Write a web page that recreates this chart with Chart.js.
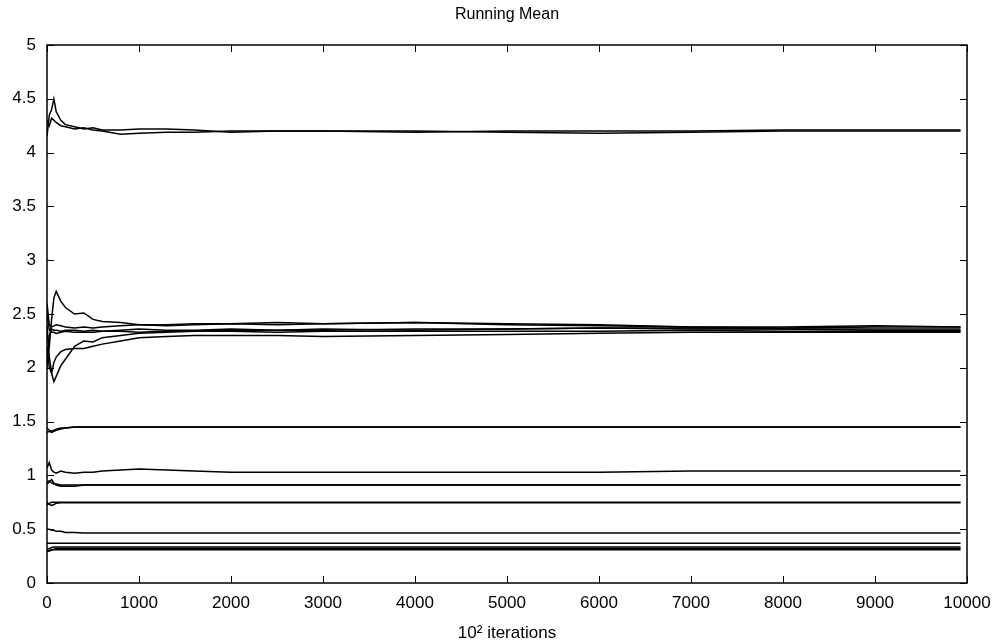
<!DOCTYPE html>
<html>
<head>
<meta charset="utf-8">
<script src="https://cdn.jsdelivr.net/npm/chart.js@4"></script>
<style>
  html, body { margin: 0; padding: 0; background: #fff; }
  #wrap { width: 1006px; height: 644px; }
</style>
</head>
<body>
<div id="wrap"><canvas id="runningMean" width="1006" height="644"></canvas></div>
<script>
// iteration positions (x 10^2) where the running mean was read
const iterations = [0, 25, 50, 75, 100, 150, 200, 300, 400, 500, 600, 800, 1000, 1300, 1600, 2000, 2500, 3000, 4000, 5000, 6000, 7000, 8000, 9000, 9930];

// parameter near 4.2 (two chains)
const meanA1 = [4.15, 4.35, 4.40, 4.50, 4.38, 4.30, 4.26, 4.24, 4.22, 4.23, 4.21, 4.21, 4.22, 4.22, 4.21, 4.19, 4.20, 4.20, 4.19, 4.20, 4.20, 4.20, 4.21, 4.21, 4.21];
const meanA2 = [4.30, 4.25, 4.32, 4.30, 4.28, 4.25, 4.24, 4.22, 4.23, 4.21, 4.20, 4.17, 4.18, 4.19, 4.19, 4.20, 4.20, 4.20, 4.20, 4.19, 4.18, 4.19, 4.20, 4.20, 4.20];

// parameters near 2.35
const meanB1 = [2.30, 2.20, 2.45, 2.65, 2.71, 2.62, 2.56, 2.50, 2.51, 2.45, 2.43, 2.42, 2.40, 2.39, 2.40, 2.41, 2.40, 2.41, 2.42, 2.40, 2.39, 2.38, 2.37, 2.38, 2.38];
const meanB2 = [2.40, 2.10, 1.95, 1.87, 1.92, 2.02, 2.08, 2.20, 2.25, 2.24, 2.28, 2.30, 2.32, 2.33, 2.34, 2.35, 2.35, 2.36, 2.35, 2.36, 2.37, 2.36, 2.36, 2.35, 2.35];
const meanB3 = [2.20, 2.00, 1.95, 2.05, 2.10, 2.15, 2.17, 2.18, 2.18, 2.20, 2.22, 2.25, 2.28, 2.29, 2.30, 2.30, 2.30, 2.29, 2.30, 2.31, 2.32, 2.33, 2.33, 2.33, 2.33];
const meanB4 = [2.60, 2.40, 2.38, 2.39, 2.40, 2.39, 2.38, 2.37, 2.38, 2.37, 2.38, 2.39, 2.40, 2.40, 2.41, 2.41, 2.42, 2.41, 2.42, 2.41, 2.40, 2.38, 2.38, 2.39, 2.38];
const meanB5 = [2.00, 2.30, 2.36, 2.35, 2.35, 2.34, 2.35, 2.35, 2.34, 2.35, 2.34, 2.35, 2.36, 2.35, 2.35, 2.36, 2.35, 2.35, 2.36, 2.36, 2.37, 2.37, 2.36, 2.36, 2.36];
const meanB6 = [2.50, 2.35, 2.33, 2.33, 2.32, 2.33, 2.34, 2.33, 2.33, 2.33, 2.34, 2.34, 2.33, 2.34, 2.34, 2.34, 2.33, 2.34, 2.34, 2.34, 2.34, 2.35, 2.34, 2.34, 2.34];

// lower parameters
const meanC1 = [1.40, 1.41, 1.40, 1.41, 1.42, 1.43, 1.44, 1.45, 1.45, 1.45, 1.45, 1.45, 1.45, 1.45, 1.45, 1.45, 1.45, 1.45, 1.45, 1.45, 1.45, 1.45, 1.45, 1.45, 1.45];
const meanC2 = [1.44, 1.42, 1.41, 1.42, 1.43, 1.44, 1.44, 1.45, 1.45, 1.45, 1.45, 1.45, 1.45, 1.45, 1.45, 1.45, 1.45, 1.45, 1.45, 1.45, 1.45, 1.45, 1.45, 1.45, 1.45];
const meanD1 = [1.07, 1.12, 1.05, 1.03, 1.02, 1.04, 1.03, 1.02, 1.03, 1.03, 1.04, 1.05, 1.06, 1.05, 1.04, 1.03, 1.03, 1.03, 1.03, 1.03, 1.03, 1.04, 1.04, 1.04, 1.04];
const meanE1 = [0.94, 0.95, 0.93, 0.92, 0.92, 0.91, 0.91, 0.91, 0.91, 0.91, 0.91, 0.91, 0.91, 0.91, 0.91, 0.91, 0.91, 0.91, 0.91, 0.91, 0.91, 0.91, 0.91, 0.91, 0.91];
const meanE2 = [0.92, 0.94, 0.96, 0.93, 0.91, 0.90, 0.90, 0.90, 0.91, 0.91, 0.91, 0.91, 0.91, 0.91, 0.91, 0.91, 0.91, 0.91, 0.91, 0.91, 0.91, 0.91, 0.91, 0.91, 0.91];
const meanF1 = [0.73, 0.74, 0.75, 0.75, 0.75, 0.75, 0.75, 0.75, 0.75, 0.75, 0.75, 0.75, 0.75, 0.75, 0.75, 0.75, 0.75, 0.75, 0.75, 0.75, 0.75, 0.75, 0.75, 0.75, 0.75];
const meanF2 = [0.75, 0.73, 0.72, 0.73, 0.74, 0.745, 0.745, 0.745, 0.745, 0.745, 0.745, 0.745, 0.745, 0.745, 0.745, 0.745, 0.745, 0.745, 0.745, 0.745, 0.745, 0.745, 0.745, 0.745, 0.745];
const meanG1 = [0.50, 0.50, 0.49, 0.49, 0.48, 0.48, 0.47, 0.47, 0.465, 0.465, 0.465, 0.465, 0.465, 0.465, 0.465, 0.465, 0.465, 0.465, 0.465, 0.465, 0.465, 0.465, 0.465, 0.465, 0.465];
const meanH1 = [0.37, 0.37, 0.37, 0.37, 0.37, 0.37, 0.37, 0.37, 0.37, 0.37, 0.37, 0.37, 0.37, 0.37, 0.37, 0.37, 0.37, 0.37, 0.37, 0.37, 0.37, 0.37, 0.37, 0.37, 0.37];
const meanH2 = [0.31, 0.32, 0.33, 0.335, 0.335, 0.335, 0.335, 0.335, 0.335, 0.335, 0.335, 0.335, 0.335, 0.335, 0.335, 0.335, 0.335, 0.335, 0.335, 0.335, 0.335, 0.335, 0.335, 0.335, 0.335];
const meanH3 = [0.29, 0.30, 0.31, 0.315, 0.32, 0.32, 0.32, 0.32, 0.32, 0.32, 0.32, 0.32, 0.32, 0.32, 0.32, 0.32, 0.32, 0.32, 0.32, 0.32, 0.32, 0.32, 0.32, 0.32, 0.32];
const meanH4 = [0.30, 0.30, 0.305, 0.31, 0.31, 0.31, 0.31, 0.31, 0.31, 0.31, 0.31, 0.31, 0.31, 0.31, 0.31, 0.31, 0.31, 0.31, 0.31, 0.31, 0.31, 0.31, 0.31, 0.31, 0.31];

const allSeries = [meanA1, meanA2, meanB1, meanB2, meanB3, meanB4, meanB5, meanB6,
  meanC1, meanC2, meanD1, meanE1, meanE2, meanF1, meanF2, meanG1, meanH1, meanH2, meanH3, meanH4];

const xTicks = [0, 1000, 2000, 3000, 4000, 5000, 6000, 7000, 8000, 9000, 10000];
const yTicks = [0, 0.5, 1, 1.5, 2, 2.5, 3, 3.5, 4, 4.5, 5];

const FONT = '"Liberation Sans", Arial, Helvetica, sans-serif';

const datasets = allSeries.map((vals, i) => ({
  label: 'chain ' + (i + 1),
  data: vals.map((v, j) => ({ x: iterations[j], y: v })),
  borderColor: '#000',
  borderWidth: 1.5,
  pointRadius: 0,
  tension: 0,
  fill: false
}));

// gnuplot-like frame with inward ticks on all four sides, plus the title
const framePlugin = {
  id: 'frame',
  afterDraw(chart) {
    const { ctx, chartArea: a, scales } = chart;
    ctx.save();
    ctx.strokeStyle = '#000';
    ctx.lineWidth = 1.5;
    ctx.strokeRect(a.left, a.top, a.right - a.left, a.bottom - a.top);
    ctx.lineWidth = 1;
    ctx.beginPath();
    xTicks.forEach(t => {
      const px = Math.round(scales.x.getPixelForValue(t)) + 0.5;
      ctx.moveTo(px, a.bottom); ctx.lineTo(px, a.bottom - 7);
      ctx.moveTo(px, a.top); ctx.lineTo(px, a.top + 7);
    });
    yTicks.forEach(t => {
      const py = Math.round(scales.y.getPixelForValue(t)) + 0.5;
      ctx.moveTo(a.left, py); ctx.lineTo(a.left + 7, py);
      ctx.moveTo(a.right, py); ctx.lineTo(a.right - 7, py);
    });
    ctx.stroke();
    ctx.fillStyle = '#000';
    ctx.font = '16px ' + FONT;
    ctx.textAlign = 'center';
    ctx.textBaseline = 'middle';
    ctx.fillText('Running Mean', (a.left + a.right) / 2, 15);
    ctx.restore();
  }
};

new Chart(document.getElementById('runningMean').getContext('2d'), {
  type: 'line',
  data: { datasets },
  options: {
    responsive: false,
    animation: false,
    layout: { padding: { top: 45, right: 39, left: 0, bottom: 0 } },
    plugins: { legend: { display: false }, tooltip: { enabled: false }, title: { display: false } },
    scales: {
      x: {
        type: 'linear',
        min: 0, max: 10000,
        afterFit: s => { s.height = 61; },
        afterBuildTicks: s => { s.ticks = xTicks.map(v => ({ value: v })); },
        grid: { display: false, drawTicks: false },
        border: { display: false },
        ticks: { color: '#000', padding: 10, maxRotation: 0, font: { family: FONT, size: 17 }, callback: v => String(v) },
        title: { display: true, text: '10² iterations', color: '#000', padding: { top: -3, bottom: 0 }, font: { family: FONT, size: 17 } }
      },
      y: {
        min: 0, max: 5,
        afterFit: s => { s.width = 47; },
        afterBuildTicks: s => { s.ticks = yTicks.map(v => ({ value: v })); },
        grid: { display: false, drawTicks: false },
        border: { display: false },
        ticks: { color: '#000', padding: 11, font: { family: FONT, size: 17 }, callback: v => String(v) }
      }
    }
  },
  plugins: [framePlugin]
});
</script>
</body>
</html>
